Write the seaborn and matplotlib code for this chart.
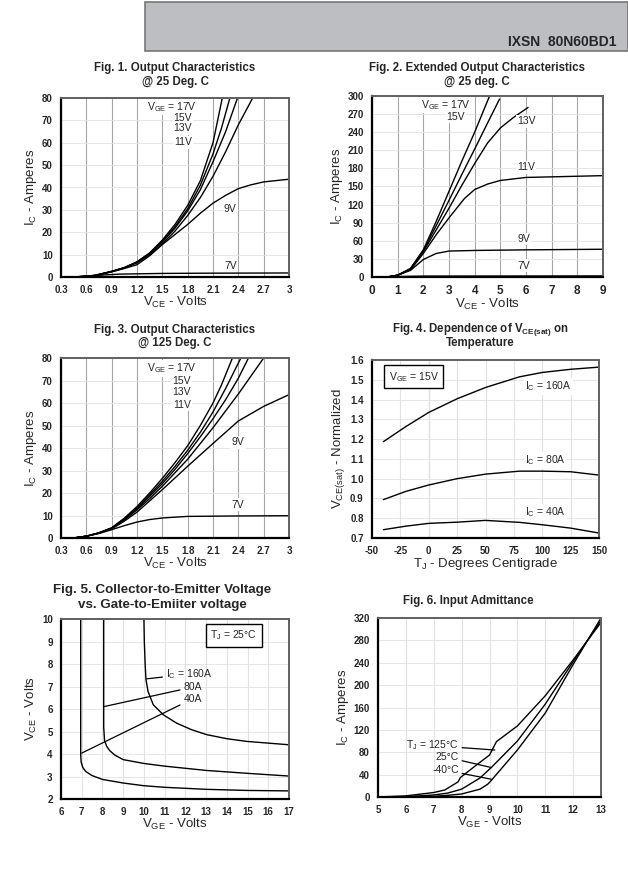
import numpy as np
import pandas as pd
import matplotlib
matplotlib.use("Agg")
import matplotlib.pyplot as plt
import matplotlib.patches as patches
import seaborn as sns

sns.set_theme(style="white")
plt.rcParams['font.family'] = ['Liberation Sans', 'DejaVu Sans']
plt.rcParams['mathtext.fontset'] = 'custom'
plt.rcParams['mathtext.rm'] = 'Liberation Sans'
plt.rcParams['mathtext.bf'] = 'Liberation Sans:bold'

# ---------------- data ----------------
# Fig 1 - output characteristics @ 25 C (VCE, IC)
f1_v17 = [0.3, 0.5, 0.7, 0.9, 1.05, 1.2, 1.35, 1.5, 1.65, 1.8, 1.95, 2.1, 2.21]
f1_i17 = [0, 0.1, 0.7, 2.5, 4.2, 6.8, 10.8, 16.5, 23.5, 32, 43, 60, 80]
f1_v15 = [0.3, 0.5, 0.7, 0.9, 1.05, 1.2, 1.35, 1.5, 1.65, 1.8, 1.95, 2.1, 2.2, 2.3]
f1_i15 = [0, 0.1, 0.7, 2.5, 4.2, 6.7, 10.5, 16, 22.5, 30.5, 41, 55, 66.5, 80]
f1_v13 = [0.3, 0.5, 0.7, 0.9, 1.05, 1.2, 1.35, 1.5, 1.65, 1.8, 1.95, 2.1, 2.25, 2.39]
f1_i13 = [0, 0.1, 0.7, 2.5, 4.1, 6.6, 10.3, 15.6, 21.8, 29.5, 39, 51.5, 65, 80]
f1_v11 = [0.3, 0.5, 0.7, 0.9, 1.05, 1.2, 1.35, 1.5, 1.65, 1.8, 1.95, 2.1, 2.25, 2.4, 2.57]
f1_i11 = [0, 0.1, 0.7, 2.4, 4.0, 6.3, 9.9, 14.8, 20.5, 27.5, 35.5, 45, 56, 68, 80]
f1_v9 = [0.3, 0.6, 0.7, 0.9, 1.05, 1.2, 1.35, 1.5, 1.65, 1.8, 1.95, 2.1, 2.25, 2.4, 2.55, 2.7, 3.0]
f1_i9 = [0, 0.2, 0.5, 2.3, 3.8, 5.5, 9.5, 14.5, 19, 23.5, 28.5, 33, 36.5, 39.5, 41.2, 42.5, 43.7]
f1_v7 = [0.3, 0.6, 0.8, 1.0, 1.5, 2.0, 3.0]
f1_i7 = [0, 0.2, 0.9, 1.3, 1.6, 1.7, 1.8]

# Fig 2 - extended output characteristics @ 25 C
f2_v17 = [0, 0.6, 1.0, 1.5, 2.0, 2.5, 3.0, 3.5, 4.0, 4.58]
f2_i17 = [0, 0, 3, 14, 45, 92, 142, 192, 240, 300]
f2_v15 = [0, 0.6, 1.0, 1.5, 2.0, 2.5, 3.0, 3.5, 4.0, 4.5, 4.97]
f2_i15 = [0, 0, 3, 14, 44, 85, 127, 170, 212, 255, 295]
f2_v13 = [0, 0.6, 1.0, 1.5, 2.0, 2.5, 3.0, 3.5, 4.0, 4.5, 5.0, 5.5, 6.08]
f2_i13 = [0, 0, 3, 13, 42, 78, 114, 152, 188, 222, 247, 264, 281]
f2_v11 = [0, 0.6, 1.0, 1.5, 2.0, 2.5, 3.0, 3.6, 4.0, 4.5, 5.0, 6.0, 7.0, 9.0]
f2_i11 = [0, 0, 3, 12, 39, 70, 98, 130, 145, 154, 160, 165, 166, 168]
f2_v9 = [0, 0.6, 1.0, 1.5, 2.0, 2.5, 3.0, 4.0, 6.0, 9.0]
f2_i9 = [0, 0, 3, 11, 29, 39, 43, 44, 45, 46]
f2_v7 = [0, 0.6, 1.0, 2.0, 9.0]
f2_i7 = [0, 0, 0.8, 1.5, 1.8]

# Fig 3 - output characteristics @ 125 C
f3_v17 = [0.3, 0.45, 0.6, 0.75, 0.9, 1.05, 1.2, 1.35, 1.5, 1.65, 1.8, 1.95, 2.1, 2.2, 2.33]
f3_i17 = [0, 0, 0.8, 2.3, 4.5, 8.8, 14, 20, 26.5, 33.5, 41, 50, 60, 68, 80]
f3_v15 = [0.3, 0.45, 0.6, 0.75, 0.9, 1.05, 1.2, 1.35, 1.5, 1.65, 1.8, 1.95, 2.1, 2.25, 2.43]
f3_i15 = [0, 0, 0.8, 2.3, 4.5, 8.6, 13.5, 19.2, 25.2, 31.8, 39, 47, 56, 66.5, 80]
f3_v13 = [0.3, 0.45, 0.6, 0.75, 0.9, 1.05, 1.2, 1.35, 1.5, 1.65, 1.8, 1.95, 2.1, 2.25, 2.4, 2.52]
f3_i13 = [0, 0, 0.8, 2.3, 4.4, 8.4, 13, 18.5, 24.2, 30.5, 37.5, 45, 53, 61.5, 71, 80]
f3_v11 = [0.3, 0.45, 0.6, 0.75, 0.9, 1.05, 1.2, 1.35, 1.5, 1.65, 1.8, 1.95, 2.1, 2.25, 2.4, 2.55, 2.7]
f3_i11 = [0, 0, 0.8, 2.2, 4.3, 8.0, 12.5, 17.5, 23, 29, 35, 42, 49, 56.5, 64, 72, 80]
f3_v9 = [0.3, 0.45, 0.6, 0.75, 0.9, 1.05, 1.2, 1.5, 1.8, 2.1, 2.4, 2.7, 3.0]
f3_i9 = [0, 0, 0.8, 2.1, 4.0, 7.5, 11.5, 21.5, 31.9, 42, 52, 58.5, 63.7]
f3_v7 = [0.3, 0.45, 0.6, 0.75, 0.9, 1.05, 1.2, 1.35, 1.5, 1.8, 2.4, 3.0]
f3_i7 = [0, 0, 0.8, 2.0, 3.7, 5.5, 7.1, 8.2, 8.9, 9.6, 9.8, 9.9]

# Fig 4 - VCE(sat) normalized vs temperature
f4_temp = [-40, -20, 0, 25, 50, 80, 100, 125, 150]
f4_160a = [1.187, 1.264, 1.335, 1.404, 1.461, 1.515, 1.537, 1.553, 1.564]
f4_80a = [0.894, 0.936, 0.968, 1.000, 1.023, 1.038, 1.038, 1.035, 1.018]
f4_40a = [0.742, 0.760, 0.774, 0.780, 0.789, 0.779, 0.767, 0.750, 0.725]

# Fig 5 - VCE vs VGE (TJ = 25 C)
f5_vge_40 = [6.95, 6.95, 6.97, 7.05, 7.2, 7.5, 8.0, 9.0, 10.0, 11.0, 13.0, 15.0, 17.0]
f5_vce_40 = [10.0, 4.0, 3.65, 3.4, 3.22, 3.04, 2.87, 2.71, 2.59, 2.52, 2.43, 2.38, 2.36]
f5_vge_80 = [8.06, 8.06, 8.1, 8.2, 8.35, 8.6, 9.0, 10.0, 11.0, 13.0, 15.0, 17.0]
f5_vce_80 = [10.0, 5.2, 4.6, 4.35, 4.15, 3.95, 3.75, 3.58, 3.46, 3.27, 3.14, 3.02]
f5_vge_160 = [10.0, 10.02, 10.06, 10.1, 10.2, 10.45, 10.94, 11.58, 12.3, 13.03, 14.0, 14.96, 17.0]
f5_vce_160 = [10.0, 9.0, 8.0, 7.3, 6.78, 6.19, 5.74, 5.37, 5.08, 4.86, 4.68, 4.56, 4.41]

# Fig 6 - input admittance (VGE, IC); the 125 C trace has a break near 7.9 V
f6_vge_125 = [5, 6, 7, 7.4, 7.87, 7.9, 7.96, 8.5, 9.0, 9.25, 10, 11, 12, 13]
f6_125c = [0, 2, 8, 12.6, 27, np.nan, 35, 56, 75, 99, 127, 181, 245, 312]
f6_vge = [5, 6, 7, 7.5, 8.0, 8.66, 8.94, 9.07, 10, 11, 12, 13]
f6_25c = [0, 0.6, 3.6, 7, 14, 34, 47, 53, 100, 166, 242, 316]
f6_m40c = [0, 0.2, 1.2, 3, 5.4, 14, 23, 30, 84, 150, 237, 320]

# ---------------- figure ----------------
fig = plt.figure(figsize=(6.28, 8.72), dpi=100)
W, H = 628.0, 872.0
TFS = 8.3   # title size
TK = 7      # tick label size
AX = 9.5    # axis label size
LB = 7.5    # in-plot label size


def box(l, t, r, b):
    return [l / W, 1 - b / H, (r - l) / W, (b - t) / H]


def style(ax, xlim, ylim, xticks, yticks, xlabels, ylabels, xlab, ylab, vcol='#a6a6a6'):
    ax.set_xlim(xlim)
    ax.set_ylim(ylim)
    ax.set_xticks(xticks)
    ax.set_yticks(yticks)
    ax.set_xticklabels(xlabels, fontsize=TK, fontweight='bold')
    ax.set_yticklabels(ylabels, fontsize=TK, fontweight='bold')
    ax.xaxis.grid(True, color=vcol, lw=0.8)
    ax.yaxis.grid(True, color='#e2e2e2', lw=0.6)
    ax.set_axisbelow(True)
    ax.tick_params(axis='both', direction='in', length=2.5, width=0.8, color='k')
    ax.tick_params(axis='x', pad=6)
    ax.tick_params(axis='y', pad=6)
    for s in ['left', 'bottom']:
        ax.spines[s].set_color('black')
        ax.spines[s].set_linewidth(1.6)
    for s in ['top', 'right']:
        ax.spines[s].set_color('#606060')
        ax.spines[s].set_linewidth(1.4)
    ax.set_xlabel(xlab, fontsize=AX, labelpad=0)
    ax.set_ylabel(ylab, fontsize=AX, labelpad=2)


def curve(ax, x, y):
    sns.lineplot(x=x, y=y, ax=ax, color='black', lw=1.0, sort=False, estimator=None)


lbl = dict(fontsize=LB, bbox=dict(facecolor='white', edgecolor='none', pad=1.0))

# header
fig.patches.append(patches.Rectangle((145 / W, 1 - 51 / H), 1 - 145 / W, 49 / H,
                                     transform=fig.transFigure, facecolor='#bdbec2',
                                     edgecolor='#777777', lw=1.2))
fig.text(617 / W, 1 - 42 / H, 'IXSN  80N60BD1', ha='right', va='center',
         fontsize=10, fontweight='bold')

# ---- Fig 1
ax1 = fig.add_axes(box(61, 98, 289, 277))
for x, y in [(f1_v17, f1_i17), (f1_v15, f1_i15), (f1_v13, f1_i13),
             (f1_v11, f1_i11), (f1_v9, f1_i9), (f1_v7, f1_i7)]:
    curve(ax1, x, y)
t13 = [0.3, 0.6, 0.9, 1.2, 1.5, 1.8, 2.1, 2.4, 2.7, 3.0]
t13_lab = ['0.3', '0.6', '0.9', '1.2', '1.5', '1.8', '2.1', '2.4', '2.7', '3']
y13 = [0, 10, 20, 30, 40, 50, 60, 70, 80]
style(ax1, (0.3, 3), (0, 80), t13, y13, t13_lab, [str(v) for v in y13],
      r'V$_\mathregular{CE}$ - Volts', r'I$_\mathregular{C}$ - Amperes')
ax1.text(1.315, 75.9, r'V$_\mathregular{GE}$ = 17V', ha='left', va='center', **lbl)
for s, yy in [('15V', 71.2), ('13V', 66.5), ('11V', 60.2)]:
    ax1.text(1.85, yy, s, ha='right', va='center', **lbl)
ax1.text(2.23, 30.4, '9V', ha='left', va='center', **lbl)
ax1.text(2.23, 4.9, '7V', ha='left', va='center', **lbl)
fig.text(175 / W, 1 - 68 / H, 'Fig. 1. Output Characteristics', ha='center', va='center',
         fontsize=TFS, fontweight='bold')
fig.text(175 / W, 1 - 82 / H, '@ 25 Deg. C', ha='center', va='center',
         fontsize=TFS, fontweight='bold')

# ---- Fig 2
ax2 = fig.add_axes(box(372, 96, 603, 277))
for x, y in [(f2_v17, f2_i17), (f2_v15, f2_i15), (f2_v13, f2_i13),
             (f2_v11, f2_i11), (f2_v9, f2_i9), (f2_v7, f2_i7)]:
    curve(ax2, x, y)
x2 = list(range(0, 10))
y2 = list(range(0, 301, 30))
style(ax2, (0, 9), (0, 300), x2, y2, [str(v) for v in x2], [str(v) for v in y2],
      r'V$_\mathregular{CE}$ - Volts', r'I$_\mathregular{C}$ - Amperes')
ax2.set_xticklabels([str(v) for v in x2], fontsize=8.5, fontweight='bold')
ax2.text(1.9, 285, r'V$_\mathregular{GE}$ = 17V', ha='left', va='center', **lbl)
ax2.text(3.61, 266, '15V', ha='right', va='center', **lbl)
for s, yy in [('13V', 258), ('11V', 182), ('9V', 63), ('7V', 19)]:
    ax2.text(5.65, yy, s, ha='left', va='center', **lbl)
fig.text(477 / W, 1 - 68 / H, 'Fig. 2. Extended Output Characteristics', ha='center',
         va='center', fontsize=TFS, fontweight='bold')
fig.text(477 / W, 1 - 82 / H, '@ 25 deg. C', ha='center', va='center',
         fontsize=TFS, fontweight='bold')

# ---- Fig 3
ax3 = fig.add_axes(box(61, 358, 289, 538))
for x, y in [(f3_v17, f3_i17), (f3_v15, f3_i15), (f3_v13, f3_i13),
             (f3_v11, f3_i11), (f3_v9, f3_i9), (f3_v7, f3_i7)]:
    curve(ax3, x, y)
style(ax3, (0.3, 3), (0, 80), t13, y13, t13_lab, [str(v) for v in y13],
      r'V$_\mathregular{CE}$ - Volts', r'I$_\mathregular{C}$ - Amperes')
ax3.text(1.315, 75.3, r'V$_\mathregular{GE}$ = 17V', ha='left', va='center', **lbl)
for s, yy in [('15V', 70), ('13V', 64.7), ('11V', 59.3)]:
    ax3.text(1.836, yy, s, ha='right', va='center', **lbl)
ax3.text(2.32, 42.5, '9V', ha='left', va='center', **lbl)
ax3.text(2.32, 14.8, '7V', ha='left', va='center', **lbl)
fig.text(175 / W, 1 - 330 / H, 'Fig. 3. Output Characteristics', ha='center',
         va='center', fontsize=TFS, fontweight='bold')
fig.text(175 / W, 1 - 343 / H, '@ 125 Deg. C', ha='center', va='center',
         fontsize=TFS, fontweight='bold')

# ---- Fig 4
ax4 = fig.add_axes(box(372, 360, 599, 538))
for y in [f4_160a, f4_80a, f4_40a]:
    curve(ax4, f4_temp, y)
x4 = list(range(-50, 151, 25))
y4 = [0.7, 0.8, 0.9, 1.0, 1.1, 1.2, 1.3, 1.4, 1.5, 1.6]
style(ax4, (-50, 150), (0.7, 1.6), x4, y4, [str(v) for v in x4],
      ['%.1f' % v for v in y4], r'T$_\mathregular{J}$ - Degrees Centigrade',
      r'V$_\mathregular{CE(sat)}$ - Normalized', vcol='#e2e2e2')
ax4.axvline(0, color='#9a9a9a', lw=0.8, zorder=0.5)
ax4.text(-35.4, 1.516, r'V$_\mathregular{GE}$ = 15V', ha='left', va='center', fontsize=LB,
         bbox=dict(facecolor='white', edgecolor='black', lw=1.0, boxstyle='square,pad=0.45'))
ax4.text(84.7, 1.466, r'I$_\mathregular{C}$ = 160A', ha='left', va='center', **lbl)
ax4.text(84.7, 1.092, r'I$_\mathregular{C}$ = 80A', ha='left', va='center', **lbl)
ax4.text(84.7, 0.83, r'I$_\mathregular{C}$ = 40A', ha='left', va='center', **lbl)
fig.text(480 / W, 1 - 330 / H, r'Fig. 4. Dependence of V$_\mathbf{CE(sat)}$ on',
         ha='center', va='center', fontsize=TFS, fontweight='bold')
fig.text(480 / W, 1 - 343 / H, 'Temperature', ha='center', va='center',
         fontsize=TFS, fontweight='bold')

# ---- Fig 5
ax5 = fig.add_axes(box(61, 619, 289, 799))
for x, y in [(f5_vge_40, f5_vce_40), (f5_vge_80, f5_vce_80), (f5_vge_160, f5_vce_160)]:
    curve(ax5, x, y)
x5 = list(range(6, 18))
y5 = list(range(2, 11))
style(ax5, (6, 17), (2, 10), x5, y5, [str(v) for v in x5], [str(v) for v in y5],
      r'V$_\mathregular{GE}$ - Volts', r'V$_\mathregular{CE}$ - Volts', vcol='#e2e2e2')
arrow = dict(arrowstyle='-', color='black', lw=0.9, shrinkA=0, shrinkB=0)
ax5.annotate(r'I$_\mathregular{C}$ = 160A', xy=(10.13, 7.34), xytext=(11.05, 7.55),
             ha='left', va='center', fontsize=LB, arrowprops=arrow)
ax5.annotate('80A', xy=(8.09, 6.11), xytext=(11.9, 6.97), ha='left', va='center',
             fontsize=LB, arrowprops=arrow)
ax5.annotate('40A', xy=(7.0, 4.04), xytext=(11.9, 6.45), ha='left', va='center',
             fontsize=LB, arrowprops=arrow)
ax5.text(13.2, 9.27, r'T$_\mathregular{J}$ = 25°C', ha='left', va='center', fontsize=LB,
         bbox=dict(facecolor='white', edgecolor='black', lw=1.0, boxstyle='square,pad=0.45'))
fig.text(162 / W, 1 - 590 / H, 'Fig. 5. Collector-to-Emitter Voltage', ha='center',
         va='center', fontsize=9.6, fontweight='bold')
fig.text(162 / W, 1 - 605 / H, 'vs. Gate-to-Emiiter voltage', ha='center', va='center',
         fontsize=9.6, fontweight='bold')

# ---- Fig 6
ax6 = fig.add_axes(box(378, 618, 601, 797))
curve(ax6, f6_vge_125, f6_125c)
curve(ax6, f6_vge, f6_25c)
curve(ax6, f6_vge, f6_m40c)
x6 = list(range(5, 14))
y6 = list(range(0, 321, 40))
style(ax6, (5, 13), (0, 320), x6, y6, [str(v) for v in x6], [str(v) for v in y6],
      r'V$_\mathregular{GE}$ - Volts', r'I$_\mathregular{C}$ - Amperes', vcol='#e2e2e2')
ax6.annotate(r'T$_\mathregular{J}$ = 125°C', xy=(9.19, 84), xytext=(7.9, 92),
             ha='right', va='center', fontsize=LB, arrowprops=arrow)
ax6.annotate('25°C', xy=(9.07, 52.6), xytext=(7.9, 71),
             ha='right', va='center', fontsize=LB, arrowprops=arrow)
ax6.annotate('-40°C', xy=(9.07, 31.7), xytext=(7.9, 48),
             ha='right', va='center', fontsize=LB, arrowprops=arrow)
fig.text(468 / W, 1 - 601 / H, 'Fig. 6. Input Admittance', ha='center', va='center',
         fontsize=TFS, fontweight='bold')

fig.savefig('out.png', dpi=100)
